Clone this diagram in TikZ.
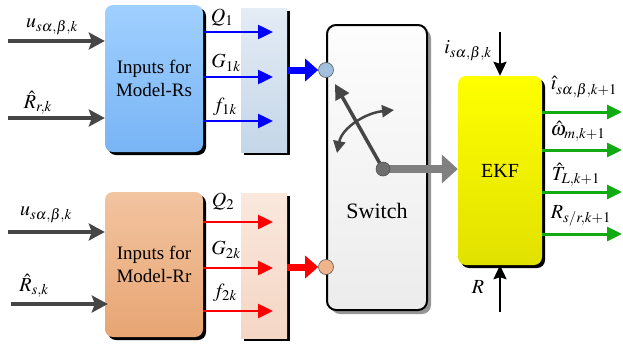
\documentclass[tikz,border=0pt]{standalone}
\usepackage{mathptmx}
\usepackage{fontspec}
\setmainfont{Liberation Serif}
\usetikzlibrary{arrows.meta,calc,shadows}
\definecolor{bluetop}{RGB}{160,208,255}
\definecolor{bluebot}{RGB}{120,180,245}
\definecolor{bpaneltop}{RGB}{228,236,245}
\definecolor{bpanelbot}{RGB}{196,214,232}
\definecolor{orgtop}{RGB}{242,196,160}
\definecolor{orgbot}{RGB}{232,165,115}
\definecolor{rpaneltop}{RGB}{250,232,222}
\definecolor{rpanelbot}{RGB}{244,214,196}
\definecolor{ylwtop}{RGB}{255,255,0}
\definecolor{ylwbot}{RGB}{225,225,0}
\definecolor{swtop}{RGB}{253,253,253}
\definecolor{swbot}{RGB}{236,236,236}
\definecolor{darkg}{RGB}{70,70,70}
\definecolor{midg}{RGB}{128,128,128}
\definecolor{arrgreen}{RGB}{20,170,20}
\definecolor{cblue}{RGB}{160,192,222}
\definecolor{corg}{RGB}{240,180,140}
\tikzset{
  rbox/.style={rounded corners=8pt, inner sep=0pt, align=center,
    font=\rmfamily\fontsize{19}{23}\selectfont,
    drop shadow={shadow xshift=3pt, shadow yshift=-3pt, opacity=1, fill=black}},
  panel/.style={inner sep=0pt,
    drop shadow={shadow xshift=3pt, shadow yshift=-3pt, opacity=1, fill=black}},
  inarrow/.style={darkg, line width=3.5pt, -{Stealth[length=16pt,width=17pt,inset=3pt]}},
  barrow/.style={blue, line width=2.5pt, -{Triangle[length=15pt,width=14pt]}},
  rarrow/.style={red, line width=2.5pt, -{Triangle[length=15pt,width=14pt]}},
  garrow/.style={arrgreen, line width=3pt, -{Triangle[length=15pt,width=14pt]}},
  karrow/.style={black, line width=2.2pt, -{Stealth[length=14pt,width=13pt,inset=2pt]}},
  lbl/.style={inner sep=0pt, font=\fontsize{20}{24}\selectfont},
  dot/.style={circle, inner sep=0pt, minimum size=15pt, draw={rgb,255:red,90;green,90;blue,90}, line width=0.6pt}
}
\begin{document}
\begin{tikzpicture}[x=1pt,y=-1pt]
\useasboundingbox (0,0) rectangle (623,343);
% boxes
\node[rbox, top color=bluetop, bottom color=bluebot, minimum width=98pt, minimum height=147pt] (rs) at (154,78.5) {Inputs for\\Model-Rs};
\node[rbox, top color=orgtop, bottom color=orgbot, minimum width=98pt, minimum height=145pt] (rr) at (154,264.5) {Inputs for\\Model-Rr};
\node[panel, top color=bpaneltop, bottom color=bpanelbot, minimum width=46pt, minimum height=144pt] (pb) at (264,80) {};
\node[panel, top color=rpaneltop, bottom color=rpanelbot, minimum width=46pt, minimum height=145pt] (pr) at (264,265.5) {};
\node[rounded corners=9pt, inner sep=0pt, draw=black, line width=2pt, top color=swtop, bottom color=swbot,
  minimum width=100pt, minimum height=285pt,
  drop shadow={shadow xshift=4pt, shadow yshift=-4pt, opacity=1, fill={rgb,255:red,150;green,150;blue,150}}] (sw) at (377,167.5) {};
\node[font=\rmfamily\fontsize{22}{26}\selectfont] (swt) at (377,211) {Switch};
\node[rbox, top color=ylwtop, bottom color=ylwbot, minimum width=84pt, minimum height=189pt, font=\rmfamily\fontsize{20}{24}\selectfont] (ekf) at (500,170.5) {EKF};

% left inputs
\coordinate (u1) at (8,41);
\coordinate (r1) at (8,118);
\coordinate (u2) at (8,232);
\coordinate (r2) at (11,304);
\draw[inarrow] (u1) -- (u1 -| rs.west);
\draw[inarrow] (r1) -- (r1 -| rs.west);
\draw[inarrow] (u2) -- (u2 -| rr.west);
\draw[inarrow] ($(r2)$) -- ($(r2 -| rr.west)+(3,0)$);
\node[lbl] (lu1) at (52,27) {$u_{s\alpha,\beta,k}$};
\node[lbl] (lr1) at (38,103) {$\hat{R}_{r,k}$};
\node[lbl] (lu2) at (46,215) {$u_{s\alpha,\beta,k}$};
\node[lbl] (lr2) at (34,286) {$\hat{R}_{s,k}$};

% blue outputs
\coordinate (b1) at (273,32);
\coordinate (b2) at (273,77);
\coordinate (b3) at (273,121);
\draw[barrow] (b1 -| rs.east) -- (b1);
\draw[barrow] (b2 -| rs.east) -- (b2);
\draw[barrow] (b3 -| rs.east) -- (b3);
\node[lbl] (lq1) at (222,18) {$Q_1$};
\node[lbl] (lg1) at (226,63) {$G_{1k}$};
\node[lbl] (lf1) at (225,107) {$f_{1k}$};
% red outputs
\coordinate (d1) at (273,222);
\coordinate (d2) at (273,268);
\coordinate (d3) at (273,311);
\draw[rarrow] (d1 -| rr.east) -- (d1);
\draw[rarrow] (d2 -| rr.east) -- (d2);
\draw[rarrow] (d3 -| rr.east) -- (d3);
\node[lbl] (lq2) at (223,202) {$Q_2$};
\node[lbl] (lg2) at (226,250) {$G_{2k}$};
\node[lbl] (lf2) at (225,293) {$f_{2k}$};

% switch contacts
\node[dot, fill=cblue] (c1) at (326,70) {};
\node[dot, fill=corg] (c2) at (326,267) {};
\draw[blue, line width=7pt, -{Triangle[length=13pt,width=22pt]}] (pb.east |- c1) -- (c1.west);
\draw[red, line width=7pt, -{Triangle[length=13pt,width=22pt]}] (pr.east |- c2) -- (c2.west);

% switch lever
\coordinate (pv) at (383,169);
\coordinate (lev) at (335,84);
\coordinate (ca) at (337,153);
\coordinate (cb) at (394,110);
\draw[midg, line width=8pt, -{Triangle[length=16pt,width=28pt]}] (pv) -- (pv -| ekf.west);
\draw[darkg, line width=3.5pt, -{Triangle[length=15pt,width=15pt]}] (pv) -- (lev);
\draw[darkg, line width=2.5pt, {Triangle[length=12pt,width=12pt]}-{Triangle[length=12pt,width=12pt]}] (ca) .. controls (342,128) and (365,113) .. (cb);
\node[circle, inner sep=0pt, minimum size=14pt, fill={rgb,255:red,110;green,110;blue,110}, draw={rgb,255:red,80;green,80;blue,80}, line width=0.6pt] (pvn) at (pv) {};

% EKF inputs
\coordinate (it) at (500,32);
\coordinate (rb) at (500,312);
\draw[karrow] (it) -- (ekf.north);
\draw[karrow] (rb) -- (ekf.south);
\node[lbl] (li) at (468,51) {$i_{s\alpha,\beta,k}$};
\node[lbl] (lR) at (478,287) {$R$};

% EKF outputs
\coordinate (o1) at (622,112);
\coordinate (o2) at (622,150);
\coordinate (o3) at (622,192);
\coordinate (o4) at (622,234);
\draw[garrow] (o1 -| ekf.east) -- (o1);
\draw[garrow] (o2 -| ekf.east) -- (o2);
\draw[garrow] (o3 -| ekf.east) -- (o3);
\draw[garrow] (o4 -| ekf.east) -- (o4);
\node[lbl] (lo1) at (584,87) {$\hat{\imath}_{s\alpha,\beta,k+1}$};
\node[lbl] (lo2) at (578,131) {$\hat{\omega}_{m,k+1}$};
\node[lbl] (lo3) at (576,175) {$\hat{T}_{L,k+1}$};
\node[lbl] (lo4) at (581,216) {$R_{s/r,k+1}$};
\end{tikzpicture}
\end{document}
